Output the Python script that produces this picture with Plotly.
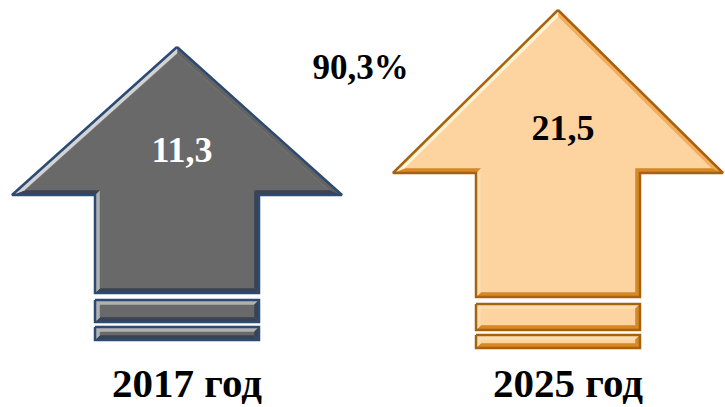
import plotly.graph_objects as go

# data
years = ["2017 год", "2025 год"]
values = [11.3, 21.5]

# arrow styling / geometry (pixel-like axis units, y grows downward)
CENTERS = [177, 558]
TIP_Y = [47, 10]
HEAD_Y = [195, 173]
SHAFT_BOTTOM = [293, 297]
BAR1 = [(300, 322), (304, 330)]
BAR2 = [(327, 340), (335, 348)]
HEAD_HW = 165
SHAFT_HW = 82

STYLES = [
    {"rim": "#2c4a72", "fill": "#696969", "mid": "#5c5c5c",
     "hi": "#d4d4d4", "lo": "#2a3850", "text": "white"},
    {"rim": "#a8620e", "fill": "#fdd3a0", "mid": "#f2ad5c",
     "hi": "#fff3d2", "lo": "#c8780f", "text": "black"},
]
FONT = "Liberation Serif, Times New Roman, serif"
BEVEL = 5


def _hex(c):
    c = c.lstrip("#")
    return [int(c[i:i + 2], 16) for i in (0, 2, 4)]


def _blend(a, b, t):
    a, b = _hex(a), _hex(b)
    return "rgb(%d,%d,%d)" % tuple(round(a[i] + (b[i] - a[i]) * t) for i in range(3))


def inset(pts, d):
    n = len(pts)
    area = sum(pts[i][0] * pts[(i + 1) % n][1] - pts[(i + 1) % n][0] * pts[i][1] for i in range(n))
    lines = []
    for i in range(n):
        (x1, y1), (x2, y2) = pts[i], pts[(i + 1) % n]
        dx, dy = x2 - x1, y2 - y1
        ln = (dx * dx + dy * dy) ** 0.5
        nx, ny = (-dy / ln, dx / ln) if area > 0 else (dy / ln, -dx / ln)
        lines.append(((x1 + nx * d, y1 + ny * d), (dx, dy), (-nx, -ny)))
    out = []
    for i in range(n):
        (p, r, _), (q, s, _) = lines[i - 1], lines[i]
        den = r[0] * s[1] - r[1] * s[0]
        t = ((q[0] - p[0]) * s[1] - (q[1] - p[1]) * s[0]) / den
        out.append((p[0] + r[0] * t, p[1] + r[1] * t))
    return out, [ln[2] for ln in lines]


def add_poly(fig, pts, st):
    n = len(pts)
    inner, normals = inset(pts, BEVEL)
    lx, ly = -0.7071, -0.7071
    for i in range(n):
        b = normals[i][0] * lx + normals[i][1] * ly
        col = _blend(st["mid"], st["hi"], b) if b >= 0 else _blend(st["mid"], st["lo"], -b)
        quad = [pts[i], pts[(i + 1) % n], inner[(i + 1) % n], inner[i], pts[i]]
        fig.add_trace(go.Scatter(
            x=[p[0] for p in quad], y=[p[1] for p in quad], mode="lines",
            fill="toself", fillcolor=col, line=dict(color=col, width=0.5),
            hoverinfo="skip", showlegend=False))
    ring = inner + [inner[0]]
    fig.add_trace(go.Scatter(
        x=[p[0] for p in ring], y=[p[1] for p in ring], mode="lines",
        fill="toself", fillcolor=st["fill"], line=dict(color=st["fill"], width=0.5),
        hoverinfo="skip", showlegend=False))
    ring = pts + [pts[0]]
    fig.add_trace(go.Scatter(
        x=[p[0] for p in ring], y=[p[1] for p in ring], mode="lines",
        line=dict(color=st["rim"], width=2.5), hoverinfo="skip", showlegend=False))


fig = go.Figure()

for i, (year, val) in enumerate(zip(years, values)):
    cx, st = CENTERS[i], STYLES[i]
    arrow = [
        (cx, TIP_Y[i]),
        (cx + HEAD_HW, HEAD_Y[i]),
        (cx + SHAFT_HW, HEAD_Y[i]),
        (cx + SHAFT_HW, SHAFT_BOTTOM[i]),
        (cx - SHAFT_HW, SHAFT_BOTTOM[i]),
        (cx - SHAFT_HW, HEAD_Y[i]),
        (cx - HEAD_HW, HEAD_Y[i]),
    ]
    add_poly(fig, arrow, st)
    for top, bot in (BAR1[i], BAR2[i]):
        add_poly(fig, [(cx - SHAFT_HW, top), (cx + SHAFT_HW, top),
                       (cx + SHAFT_HW, bot), (cx - SHAFT_HW, bot)], st)

    fig.add_trace(go.Scatter(
        x=[cx + 5], y=[HEAD_Y[i] - 42], mode="text",
        text=["<b>" + f"{val:.1f}".replace(".", ",") + "</b>"],
        textfont=dict(family=FONT, size=36, color=st["text"]),
        hoverinfo="skip", showlegend=False))
    fig.add_trace(go.Scatter(
        x=[cx + 10], y=[387], mode="text", text=[f"<b>{year}</b>"],
        textfont=dict(family=FONT, size=41, color="black"),
        hoverinfo="skip", showlegend=False))

growth = (values[1] / values[0] - 1) * 100
fig.add_trace(go.Scatter(
    x=[(CENTERS[0] + CENTERS[1]) / 2 - 7], y=[70], mode="text",
    text=["<b>" + f"{growth:.1f}".replace(".", ",") + "%</b>"],
    textfont=dict(family=FONT, size=35, color="black"),
    hoverinfo="skip", showlegend=False))

fig.update_layout(
    width=725,
    height=407,
    margin=dict(l=0, r=0, t=0, b=0),
    plot_bgcolor="white",
    paper_bgcolor="white",
    showlegend=False,
    xaxis=dict(range=[0, 725], visible=False, fixedrange=True),
    yaxis=dict(range=[407, 0], visible=False, fixedrange=True),
)

fig.write_html(
    "out.html",
    config={"displayModeBar": False},
    post_script="document.body.style.margin='0';",
)
